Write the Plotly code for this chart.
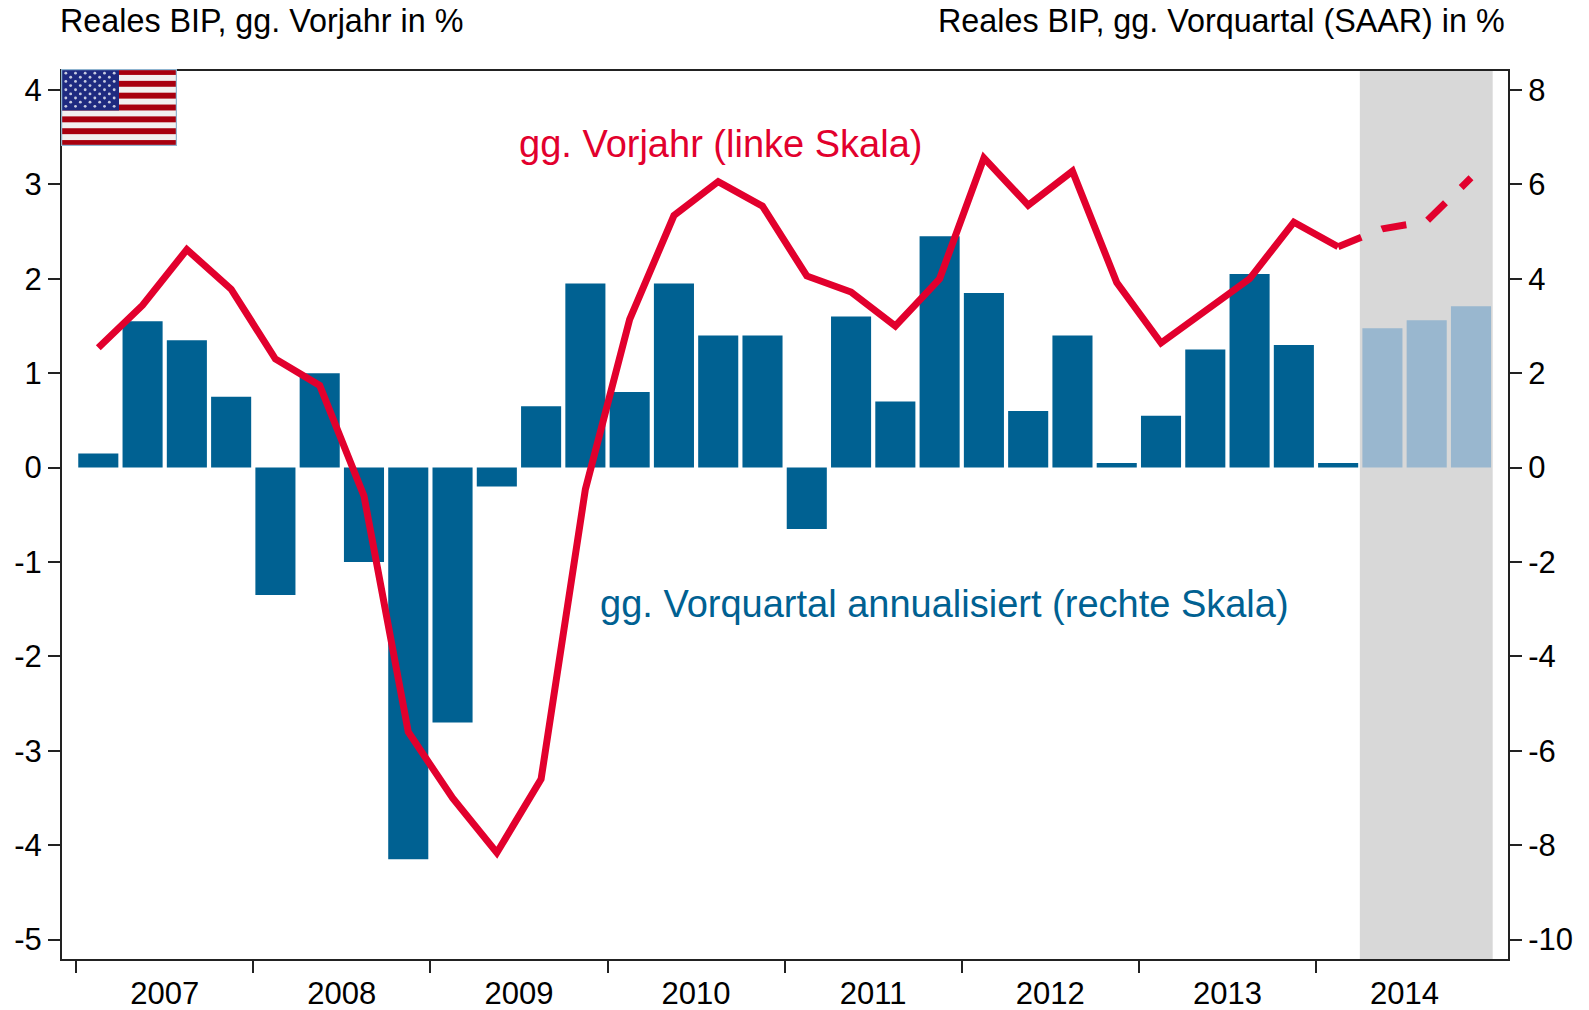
import base64
import plotly.graph_objects as go

# --- data ---
quarters = list(range(32))
yoy_actual = [1.27, 1.72, 2.31, 1.89, 1.15, 0.87, -0.30, -2.80, -3.50, -4.08, -3.30, -0.23,
              1.57, 2.67, 3.03, 2.77, 2.03, 1.86, 1.50, 2.00, 3.28, 2.78, 3.14, 1.96,
              1.32, 1.67, 2.00, 2.60, 2.34]
yoy_forecast = [2.34, 2.53, 2.61, 3.07]
qoq_actual = [0.3, 3.1, 2.7, 1.5, -2.7, 2.0, -2.0, -8.3, -5.4, -0.4, 1.3, 3.9,
              1.6, 3.9, 2.8, 2.8, -1.3, 3.2, 1.4, 4.9, 3.7, 1.2, 2.8, 0.1,
              1.1, 2.5, 4.1, 2.6, 0.1]
qoq_forecast = [2.95, 3.12, 3.42]
years = ["2007", "2008", "2009", "2010", "2011", "2012", "2013", "2014"]
left_ticks = [-5, -4, -3, -2, -1, 0, 1, 2, 3, 4]
right_ticks = [-10, -8, -6, -4, -2, 0, 2, 4, 6, 8]

BLUE = "#006192"
LIGHT = "#99B7CF"
RED = "#E2002D"
GREY = "#D8D8D8"
FONT = "Liberation Sans"
W, H = 1589, 1010
L, R, T, B = 62, 1508, 71, 959


def px(x):
    return (x - L) / (R - L)


def py(y):
    return 1 - (y - T) / (B - T)


def flag_uri():
    w, h = 1140, 760
    s = f'<svg xmlns="http://www.w3.org/2000/svg" width="{w}" height="{h}" viewBox="0 0 {w} {h}">'
    s += f'<rect width="{w}" height="{h}" fill="#F2F0F0"/>'
    sh = h / 13
    for i in range(0, 13, 2):
        s += f'<rect y="{i * sh}" width="{w}" height="{sh}" fill="#A8000F"/>'
    cw, ch = w * 0.5, sh * 7
    s += f'<rect width="{cw}" height="{ch}" fill="#1E2A80"/>'
    for row in range(9):
        n = 6 if row % 2 == 0 else 5
        for c in range(n):
            cx = cw / 12 * (2 * c + 1 + (row % 2))
            cy = ch / 10 * (row + 1)
            s += f'<circle cx="{cx}" cy="{cy}" r="14" fill="#C8CCE0"/>'
    s += f'<rect x="6" y="6" width="{w - 12}" height="{h - 12}" fill="none" stroke="#8FB4D0" stroke-width="12"/>'
    s += '</svg>'
    return "data:image/svg+xml;base64," + base64.b64encode(s.encode()).decode()


n_a = len(qoq_actual)
n_l = len(yoy_actual)
fig = go.Figure()
fig.add_bar(x=quarters[:n_a], y=qoq_actual, marker=dict(color=BLUE, line=dict(width=0)),
            width=0.905, yaxis="y", showlegend=False)
fig.add_bar(x=quarters[n_a:], y=qoq_forecast, marker=dict(color=LIGHT, line=dict(width=0)),
            width=0.905, yaxis="y", showlegend=False)
fig.add_scatter(x=quarters[:n_l], y=yoy_actual, mode="lines", yaxis="y2", showlegend=False,
                line=dict(color=RED, width=7))
fig.add_scatter(x=quarters[n_l - 1:], y=yoy_forecast, mode="lines", yaxis="y2", showlegend=False,
                line=dict(color=RED, width=7, dash="25px,22px"))

xr = [(L - 98.3) / 44.28, (R - 98.3) / 44.28]
yr2 = [(467.6 - B) / 94.4, (467.6 - T) / 94.4]
tickfont = dict(family=FONT, size=31, color="#000000")

fig.update_layout(
    width=W, height=H, margin=dict(l=L, r=W - R, t=T, b=H - B, pad=0, autoexpand=False),
    paper_bgcolor="white", plot_bgcolor="white", barmode="overlay", font=dict(family=FONT),
    xaxis=dict(range=xr, tickmode="array", tickvals=[1.5 + 4 * i for i in range(len(years))],
               ticktext=years, tickfont=tickfont, ticks="outside", ticklen=6, automargin=False,
               tickcolor="rgba(0,0,0,0)", showgrid=False, zeroline=False,
               showline=True, linecolor="#222222", linewidth=2, mirror=True,
               minor=dict(tickmode="array", tickvals=[-0.5 + 4 * i for i in range(8)],
                          ticks="outside", ticklen=12, tickwidth=2, tickcolor="#222222", showgrid=False)),
    yaxis=dict(side="right", range=[2 * yr2[0], 2 * yr2[1]], tickmode="array", automargin=False,
               tickvals=right_ticks, ticktext=[str(v) for v in right_ticks], tickfont=tickfont,
               ticks="outside", ticklen=12, tickwidth=2, tickcolor="#222222", showgrid=False,
               zeroline=False, showline=True, linecolor="#222222", linewidth=2),
    yaxis2=dict(side="left", overlaying="y", range=yr2, tickmode="array", automargin=False,
                tickvals=left_ticks, ticktext=[str(v) for v in left_ticks], tickfont=tickfont,
                ticks="outside", ticklen=12, tickwidth=2, tickcolor="#222222", showgrid=False,
                zeroline=False, showline=True, linecolor="#222222", linewidth=2),
    shapes=[dict(type="rect", layer="below", xref="x", yref="paper", x0=28.49, x1=31.49, y0=0, y1=1,
                 fillcolor=GREY, line=dict(width=0))],
    images=[dict(source=flag_uri(), xref="paper", yref="paper", x=px(61), y=py(69),
                 sizex=(177 - 61) / (R - L), sizey=(146 - 69) / (B - T), xanchor="left", yanchor="top",
                 sizing="stretch", layer="above")],
    annotations=[
        dict(text="Reales BIP, gg. Vorjahr in %", xref="paper", yref="paper", x=px(58), y=py(21),
             xanchor="left", yanchor="middle", showarrow=False, font=dict(family=FONT, size=32.3, color="#000000")),
        dict(text="Reales BIP, gg. Vorquartal (SAAR) in %", xref="paper", yref="paper", x=px(1507), y=py(21),
             xanchor="right", yanchor="middle", showarrow=False, font=dict(family=FONT, size=32.3, color="#000000")),
        dict(text="gg. Vorjahr (linke Skala)", xref="paper", yref="paper", x=px(517), y=py(144),
             xanchor="left", yanchor="middle", showarrow=False, font=dict(family=FONT, size=38, color=RED)),
        dict(text="gg. Vorquartal annualisiert (rechte Skala)", xref="paper", yref="paper", x=px(598), y=py(604),
             xanchor="left", yanchor="middle", showarrow=False, font=dict(family=FONT, size=38, color=BLUE)),
    ],
)
fig.write_html("out.html", config={"displayModeBar": False},
               post_script="document.body.style.margin='0';document.body.style.overflow='hidden';")
